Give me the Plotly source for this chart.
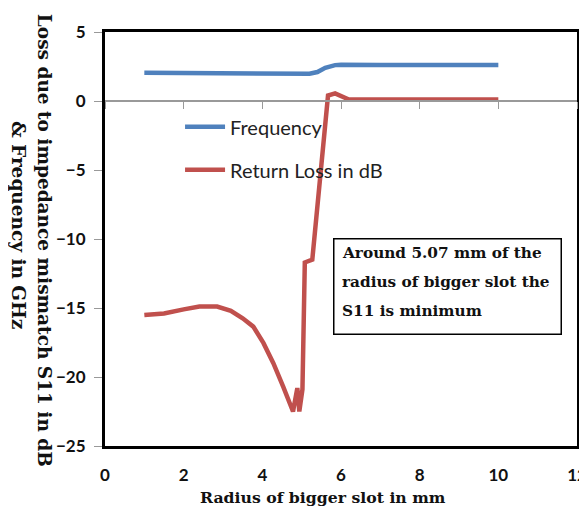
import plotly.graph_objects as go

# Data
radius_rl = [1.0, 1.5, 2.0, 2.4, 2.85, 3.2, 3.5, 3.77, 4.03, 4.28, 4.53, 4.70, 4.78, 4.89, 4.94, 5.02,
             5.08, 5.27, 5.67, 5.85, 6.0, 6.2, 7.0, 8.0, 9.0, 10.0]
return_loss = [-15.5, -15.4, -15.1, -14.9, -14.9, -15.2, -15.75, -16.35, -17.55, -19.0, -20.7, -21.9, -22.5,
               -20.8, -22.5, -20.9, -11.7, -11.5, 0.4, 0.55, 0.35, 0.1, 0.1, 0.1, 0.1, 0.1]

radius_f = [1.0, 2.0, 3.0, 4.0, 5.0, 5.2, 5.4, 5.6, 5.85, 6.0, 7.0, 8.0, 9.0, 10.0]
frequency = [2.05, 2.03, 2.0, 1.98, 1.97, 1.97, 2.1, 2.4, 2.6, 2.62, 2.6, 2.6, 2.6, 2.6]

x_ticks = [0, 2, 4, 6, 8, 10, 12]
y_ticks = [5, 0, -5, -10, -15, -20, -25]

note_lines = ["Around 5.07 mm of the", "radius of bigger slot the", "S11 is minimum"]
note_y = [-11.05, -13.15, -15.2]

BLUE = "#4F81BD"
RED = "#C0504D"
SERIF = "DejaVu Serif"
SANS = "Lato"
INK = "#111"

fig = go.Figure()
fig.add_trace(go.Scatter(x=radius_f, y=frequency, mode="lines", name="Frequency",
                         line=dict(color=BLUE, width=4.5), legendgroup="a"))
fig.add_trace(go.Scatter(x=radius_rl, y=return_loss, mode="lines", name="Return Loss in dB",
                         line=dict(color=RED, width=4.5), legendgroup="b"))

y_lo, y_hi = -25, 5
zero_frac = (0 - y_lo) / (y_hi - y_lo)

# page body adds an 8px margin, so the figure is 8px smaller than the window
fig.update_layout(
    width=579, height=501,
    margin=dict(l=97, r=10, t=24, b=63),
    paper_bgcolor="white", plot_bgcolor="white",
    showlegend=True,
    legend=dict(x=0.159, y=0.818, xanchor="left", yanchor="top",
                font=dict(family=SANS, size=20, color="#222"),
                bgcolor="rgba(0,0,0,0)", traceorder="grouped", tracegroupgap=14,
                itemwidth=40),
    xaxis=dict(range=[0, 12], tickvals=x_ticks, ticktext=[str(v) for v in x_ticks],
               showgrid=False, zeroline=False, showline=True, linecolor="black",
               linewidth=3, mirror=True, ticks="", ticklabelstandoff=12, automargin=False,
               tickfont=dict(family=SANS, size=17, color=INK, weight="bold")),
    xaxis2=dict(range=[0, 12], overlaying="x", anchor="free", position=zero_frac,
                side="bottom", showgrid=False, zeroline=False, showline=True,
                linecolor="#999", linewidth=1.5, ticks="outside", ticklen=7,
                tickcolor="#999", tickvals=x_ticks, showticklabels=False, automargin=False),
    yaxis=dict(range=[y_lo, y_hi], tickvals=y_ticks, showgrid=False, zeroline=False,
               showline=True, linecolor="black", linewidth=3, mirror=True,
               ticks="outside", ticklen=8, tickcolor="#999", ticklabelstandoff=5,
               automargin=False,
               tickfont=dict(family=SANS, size=17, color=INK, weight="bold")),
)
# invisible trace to activate xaxis2 (the axis drawn through y = 0)
fig.add_trace(go.Scatter(x=[0], y=[0], xaxis="x2", mode="markers",
                         marker=dict(opacity=0), showlegend=False, hoverinfo="skip"))

# x-axis title
fig.add_annotation(xref="paper", yref="paper", x=0.5, y=-0.1256, xshift=-18,
                   xanchor="center", yanchor="middle", showarrow=False,
                   text="Radius of bigger slot in mm",
                   font=dict(family=SERIF, size=15.7, color=INK, weight="bold"))

# y-axis title, two lines rotated clockwise
fig.add_annotation(xref="paper", yref="paper", x=0, y=0.498, xshift=-61,
                   xanchor="center", yanchor="middle", textangle=90, showarrow=False,
                   text="Loss due to impedance mismatch S11 in dB",
                   font=dict(family=SERIF, size=18.5, color=INK, weight="bold"))
fig.add_annotation(xref="paper", yref="paper", x=0, y=0.534, xshift=-87,
                   xanchor="center", yanchor="middle", textangle=90, showarrow=False,
                   text="& Frequency in GHz",
                   font=dict(family=SERIF, size=18.5, color=INK, weight="bold"))

# note box
fig.add_annotation(xref="x", yref="y", x=5.8, y=-9.9, xanchor="left", yanchor="top",
                   text=" ", showarrow=False, bgcolor="white", bordercolor="black",
                   borderwidth=1.5, borderpad=0, width=226, height=94)
for line, yv in zip(note_lines, note_y):
    fig.add_annotation(xref="x", yref="y", x=5.975, y=yv, xanchor="left", yanchor="middle",
                       text=line, showarrow=False, align="left",
                       font=dict(family=SERIF, size=15.3, color=INK, weight="bold"))

fig.write_html("out.html")
